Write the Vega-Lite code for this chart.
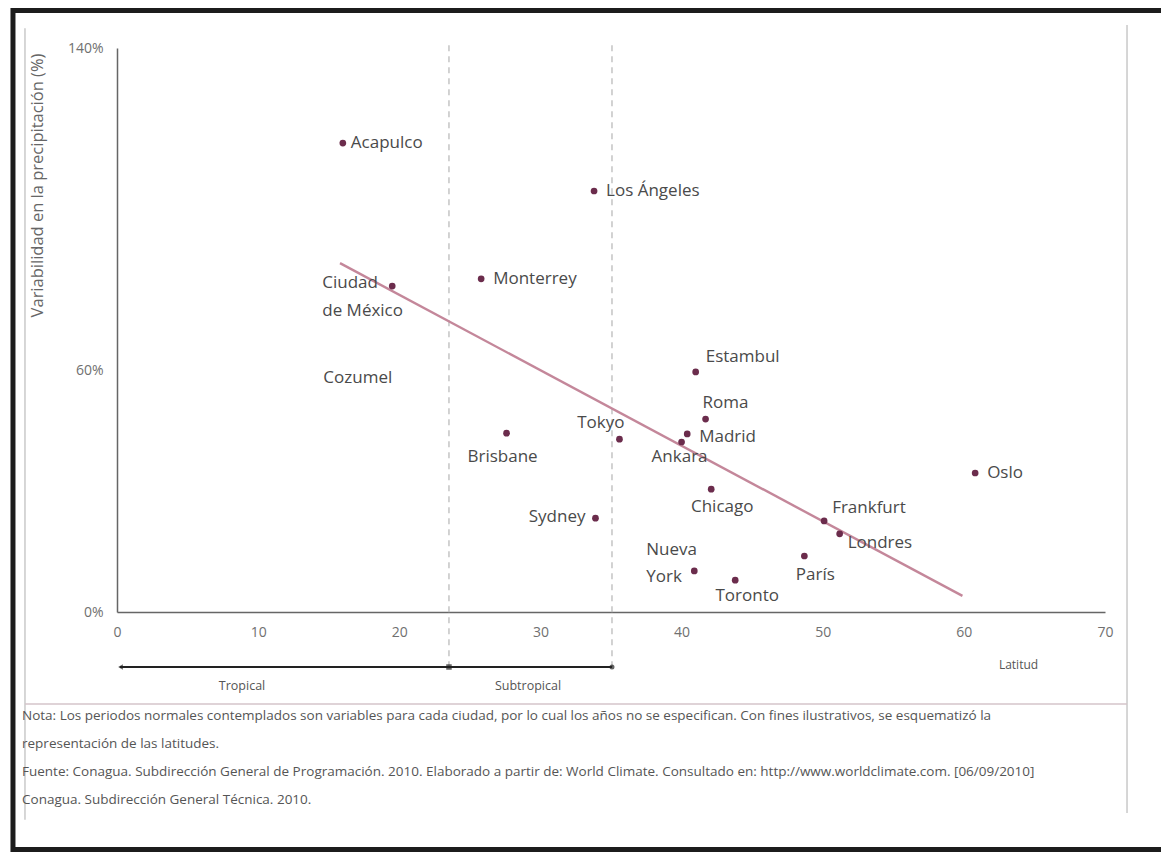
{
  "$schema": "https://vega.github.io/schema/vega-lite/v6.json",
  "width": 988,
  "height": 564,
  "autosize": {"type": "none"},
  "padding": {"left": 117, "top": 48, "right": 56, "bottom": 240},
  "background": "#ffffff",
  "config": {"view": {"stroke": null}, "text": {"font": "Open Sans"}},
  "datasets": {
    "cities": [
      {"city": "Acapulco", "lat": 16.0, "var": 116.4},
      {"city": "Los Ángeles", "lat": 33.8, "var": 104.5},
      {"city": "Monterrey", "lat": 25.8, "var": 82.7},
      {"city": "Ciudad de México", "lat": 19.5, "var": 80.9},
      {"city": "Cozumel", "lat": 20.5, "var": 58.1},
      {"city": "Brisbane", "lat": 27.6, "var": 44.4},
      {"city": "Tokyo", "lat": 35.6, "var": 42.9},
      {"city": "Sydney", "lat": 33.9, "var": 23.3},
      {"city": "Estambul", "lat": 41.0, "var": 59.6},
      {"city": "Roma", "lat": 41.7, "var": 47.9},
      {"city": "Madrid", "lat": 40.4, "var": 44.2},
      {"city": "Ankara", "lat": 40.0, "var": 42.2},
      {"city": "Chicago", "lat": 42.1, "var": 30.5},
      {"city": "Frankfurt", "lat": 50.1, "var": 22.6},
      {"city": "Londres", "lat": 51.2, "var": 19.4},
      {"city": "París", "lat": 48.7, "var": 13.9},
      {"city": "Nueva York", "lat": 40.9, "var": 10.2},
      {"city": "Toronto", "lat": 43.8, "var": 7.9},
      {"city": "Oslo", "lat": 60.8, "var": 34.5}
    ],
    "trend": [
      {"lat": 15.8, "var": 86.6},
      {"lat": 59.9, "var": 4.0}
    ]
  },
  "data": {"values": [{}]},
  "layer": [
    {
      "mark": {"type": "rect", "filled": false, "stroke": "#1c1c1c", "strokeWidth": 5},
      "encoding": {
        "x": {"datum": -7.37, "type": "quantitative"},
        "x2": {"datum": 74.96},
        "y": {"datum": 149.3, "type": "quantitative"},
        "y2": {"datum": -58.95}
      }
    },
    {
      "mark": {"type": "rule", "stroke": "#c9c9c9", "strokeWidth": 1.5},
      "encoding": {
        "x": {"datum": -6.52, "type": "quantitative"},
        "y": {"datum": 144.9, "type": "quantitative"},
        "y2": {"datum": -51.6}
      }
    },
    {
      "mark": {"type": "rule", "stroke": "#c9c9c9", "strokeWidth": 1.5},
      "encoding": {
        "x": {"datum": 71.56, "type": "quantitative"},
        "y": {"datum": 145.7, "type": "quantitative"},
        "y2": {"datum": -49.9}
      }
    },
    {
      "mark": {"type": "rule", "stroke": "#d4c5ca", "strokeWidth": 1.5},
      "encoding": {
        "x": {"datum": -6.52, "type": "quantitative"},
        "x2": {"datum": 71.56},
        "y": {"datum": -22.84, "type": "quantitative"}
      }
    },
    {
      "mark": {"type": "text", "font": "Open Sans", "fontSize": 13.5, "color": "#555555", "align": "left", "baseline": "top", "lineHeight": 28},
      "encoding": {
        "x": {"datum": -6.73, "type": "quantitative"},
        "y": {"datum": -24.0, "type": "quantitative"},
        "text": {"value": [
          "Nota: Los periodos normales contemplados son variables para cada ciudad, por lo cual los años no se especifican. Con fines ilustrativos, se esquematizó la",
          "representación de las latitudes.",
          "Fuente: Conagua. Subdirección General de Programación. 2010. Elaborado a partir de: World Climate. Consultado en: http://www.worldclimate.com. [06/09/2010]",
          "Conagua. Subdirección General Técnica. 2010."
        ]}
      }
    },
    {
      "mark": {"type": "rule", "stroke": "#b5b5b5", "strokeWidth": 1.2, "strokeDash": [6, 5]},
      "encoding": {
        "x": {"datum": 23.52, "type": "quantitative"},
        "y": {"datum": 140.7, "type": "quantitative"},
        "y2": {"datum": -13.65}
      }
    },
    {
      "mark": {"type": "rule", "stroke": "#b5b5b5", "strokeWidth": 1.2, "strokeDash": [6, 5]},
      "encoding": {
        "x": {"datum": 35.07, "type": "quantitative"},
        "y": {"datum": 140.7, "type": "quantitative"},
        "y2": {"datum": -13.65}
      }
    },
    {
      "mark": {"type": "rule", "stroke": "#222222", "strokeWidth": 2},
      "encoding": {
        "x": {"datum": 0.2, "type": "quantitative"},
        "x2": {"datum": 35.07},
        "y": {"datum": -13.65, "type": "quantitative"}
      }
    },
    {
      "mark": {"type": "point", "shape": "triangle-left", "filled": true, "color": "#222222", "size": 30},
      "encoding": {
        "x": {"datum": 0.25, "type": "quantitative"},
        "y": {"datum": -13.65, "type": "quantitative"}
      }
    },
    {
      "mark": {"type": "point", "shape": "square", "filled": true, "color": "#222222", "size": 30},
      "encoding": {
        "x": {"datum": 23.52, "type": "quantitative"},
        "y": {"datum": -13.65, "type": "quantitative"}
      }
    },
    {
      "mark": {"type": "point", "shape": "circle", "filled": true, "color": "#222222", "size": 25},
      "encoding": {
        "x": {"datum": 35.07, "type": "quantitative"},
        "y": {"datum": -13.65, "type": "quantitative"}
      }
    },
    {
      "mark": {"type": "text", "font": "Open Sans", "fontSize": 12.5, "color": "#555555", "align": "center", "baseline": "middle"},
      "encoding": {
        "x": {"datum": 8.86, "type": "quantitative"},
        "y": {"datum": -18.4, "type": "quantitative"},
        "text": {"value": "Tropical"}
      }
    },
    {
      "mark": {"type": "text", "font": "Open Sans", "fontSize": 12.5, "color": "#555555", "align": "center", "baseline": "middle"},
      "encoding": {
        "x": {"datum": 29.12, "type": "quantitative"},
        "y": {"datum": -18.4, "type": "quantitative"},
        "text": {"value": "Subtropical"}
      }
    },
    {
      "data": {"name": "trend"},
      "mark": {"type": "line", "color": "#c4879a", "strokeWidth": 2.4},
      "encoding": {
        "x": {"field": "lat", "type": "quantitative"},
        "y": {"field": "var", "type": "quantitative"}
      }
    },
    {
      "data": {"name": "cities"},
      "transform": [{"filter": "datum.city !== 'Cozumel'"}],
      "mark": {"type": "circle", "color": "#6b2c4c", "opacity": 1, "size": 45},
      "encoding": {
        "x": {
          "field": "lat",
          "type": "quantitative",
          "scale": {"domain": [0, 70], "nice": false, "zero": false},
          "axis": {
            "title": "Latitud",
            "values": [0, 10, 20, 30, 40, 50, 60, 70],
            "grid": false,
            "ticks": false,
            "labelFlush": false,
            "labelOverlap": false,
            "domainColor": "#666666",
            "domainWidth": 1.5,
            "labelPadding": 13,
            "labelFont": "Open Sans",
            "labelFontSize": 14,
            "labelColor": "#707070",
            "titleFont": "Open Sans",
            "titleFontSize": 12,
            "titleFontWeight": "normal",
            "titleColor": "#555555",
            "titleX": 901,
            "titleY": 52,
            "titleAlign": "center",
            "titleBaseline": "middle"
          }
        },
        "y": {
          "field": "var",
          "type": "quantitative",
          "scale": {"domain": [0, 140], "nice": false, "zero": false},
          "axis": {
            "title": "Variabilidad en la precipitación (%)",
            "values": [0, 60, 140],
            "labelExpr": "datum.value + '%'",
            "grid": false,
            "ticks": false,
            "labelFlush": false,
            "labelOverlap": false,
            "domainColor": "#666666",
            "domainWidth": 1.5,
            "labelPadding": 14,
            "labelFont": "Open Sans",
            "labelFontSize": 14,
            "labelColor": "#707070",
            "titleFont": "Open Sans",
            "titleFontSize": 16.5,
            "titleFontWeight": "normal",
            "titleColor": "#666666",
            "titleAngle": 270,
            "titleX": -80,
            "titleY": 5,
            "titleAlign": "right",
            "titleBaseline": "middle"
          }
        }
      }
    },
    {
      "data": {"name": "cities"},
      "transform": [{"filter": "datum.city === 'Acapulco'"}],
      "mark": {"type": "text", "font": "Open Sans", "fontSize": 17, "color": "#4a4a4a", "align": "left", "baseline": "middle", "dx": 8, "dy": 0},
      "encoding": {"x": {"field": "lat", "type": "quantitative"}, "y": {"field": "var", "type": "quantitative"}, "text": {"field": "city"}}
    },
    {
      "data": {"name": "cities"},
      "transform": [{"filter": "datum.city === 'Los Ángeles' || datum.city === 'Monterrey' || datum.city === 'Oslo'"}],
      "mark": {"type": "text", "font": "Open Sans", "fontSize": 17, "color": "#4a4a4a", "align": "left", "baseline": "middle", "dx": 12, "dy": 0},
      "encoding": {"x": {"field": "lat", "type": "quantitative"}, "y": {"field": "var", "type": "quantitative"}, "text": {"field": "city"}}
    },
    {
      "data": {"name": "cities"},
      "transform": [{"filter": "datum.city === 'Ciudad de México'"}, {"calculate": "replace(datum.city, ' de ', '|de ')", "as": "lbl"}],
      "mark": {"type": "text", "font": "Open Sans", "fontSize": 17, "color": "#4a4a4a", "align": "left", "baseline": "middle", "dx": -70, "dy": -3, "lineBreak": "|", "lineHeight": 28},
      "encoding": {"x": {"field": "lat", "type": "quantitative"}, "y": {"field": "var", "type": "quantitative"}, "text": {"field": "lbl"}}
    },
    {
      "data": {"name": "cities"},
      "transform": [{"filter": "datum.city === 'Cozumel'"}],
      "mark": {"type": "text", "font": "Open Sans", "fontSize": 17, "color": "#4a4a4a", "align": "left", "baseline": "middle", "dx": -83, "dy": 0},
      "encoding": {"x": {"field": "lat", "type": "quantitative"}, "y": {"field": "var", "type": "quantitative"}, "text": {"field": "city"}}
    },
    {
      "data": {"name": "cities"},
      "transform": [{"filter": "datum.city === 'Brisbane'"}],
      "mark": {"type": "text", "font": "Open Sans", "fontSize": 17, "color": "#4a4a4a", "align": "center", "baseline": "middle", "dx": -4, "dy": 24},
      "encoding": {"x": {"field": "lat", "type": "quantitative"}, "y": {"field": "var", "type": "quantitative"}, "text": {"field": "city"}}
    },
    {
      "data": {"name": "cities"},
      "transform": [{"filter": "datum.city === 'Tokyo'"}],
      "mark": {"type": "text", "font": "Open Sans", "fontSize": 17, "color": "#4a4a4a", "align": "right", "baseline": "middle", "dx": 5, "dy": -16},
      "encoding": {"x": {"field": "lat", "type": "quantitative"}, "y": {"field": "var", "type": "quantitative"}, "text": {"field": "city"}}
    },
    {
      "data": {"name": "cities"},
      "transform": [{"filter": "datum.city === 'Sydney'"}],
      "mark": {"type": "text", "font": "Open Sans", "fontSize": 17, "color": "#4a4a4a", "align": "right", "baseline": "middle", "dx": -10, "dy": -1},
      "encoding": {"x": {"field": "lat", "type": "quantitative"}, "y": {"field": "var", "type": "quantitative"}, "text": {"field": "city"}}
    },
    {
      "data": {"name": "cities"},
      "transform": [{"filter": "datum.city === 'Estambul'"}],
      "mark": {"type": "text", "font": "Open Sans", "fontSize": 17, "color": "#4a4a4a", "align": "left", "baseline": "middle", "dx": 10, "dy": -15},
      "encoding": {"x": {"field": "lat", "type": "quantitative"}, "y": {"field": "var", "type": "quantitative"}, "text": {"field": "city"}}
    },
    {
      "data": {"name": "cities"},
      "transform": [{"filter": "datum.city === 'Roma'"}],
      "mark": {"type": "text", "font": "Open Sans", "fontSize": 17, "color": "#4a4a4a", "align": "left", "baseline": "middle", "dx": -3, "dy": -16},
      "encoding": {"x": {"field": "lat", "type": "quantitative"}, "y": {"field": "var", "type": "quantitative"}, "text": {"field": "city"}}
    },
    {
      "data": {"name": "cities"},
      "transform": [{"filter": "datum.city === 'Madrid'"}],
      "mark": {"type": "text", "font": "Open Sans", "fontSize": 17, "color": "#4a4a4a", "align": "left", "baseline": "middle", "dx": 12, "dy": 3},
      "encoding": {"x": {"field": "lat", "type": "quantitative"}, "y": {"field": "var", "type": "quantitative"}, "text": {"field": "city"}}
    },
    {
      "data": {"name": "cities"},
      "transform": [{"filter": "datum.city === 'Ankara'"}],
      "mark": {"type": "text", "font": "Open Sans", "fontSize": 17, "color": "#4a4a4a", "align": "center", "baseline": "middle", "dx": -2, "dy": 15},
      "encoding": {"x": {"field": "lat", "type": "quantitative"}, "y": {"field": "var", "type": "quantitative"}, "text": {"field": "city"}}
    },
    {
      "data": {"name": "cities"},
      "transform": [{"filter": "datum.city === 'Chicago'"}],
      "mark": {"type": "text", "font": "Open Sans", "fontSize": 17, "color": "#4a4a4a", "align": "center", "baseline": "middle", "dx": 11, "dy": 18},
      "encoding": {"x": {"field": "lat", "type": "quantitative"}, "y": {"field": "var", "type": "quantitative"}, "text": {"field": "city"}}
    },
    {
      "data": {"name": "cities"},
      "transform": [{"filter": "datum.city === 'Frankfurt'"}],
      "mark": {"type": "text", "font": "Open Sans", "fontSize": 17, "color": "#4a4a4a", "align": "left", "baseline": "middle", "dx": 8, "dy": -13},
      "encoding": {"x": {"field": "lat", "type": "quantitative"}, "y": {"field": "var", "type": "quantitative"}, "text": {"field": "city"}}
    },
    {
      "data": {"name": "cities"},
      "transform": [{"filter": "datum.city === 'Londres'"}],
      "mark": {"type": "text", "font": "Open Sans", "fontSize": 17, "color": "#4a4a4a", "align": "left", "baseline": "middle", "dx": 8, "dy": 9},
      "encoding": {"x": {"field": "lat", "type": "quantitative"}, "y": {"field": "var", "type": "quantitative"}, "text": {"field": "city"}}
    },
    {
      "data": {"name": "cities"},
      "transform": [{"filter": "datum.city === 'París'"}],
      "mark": {"type": "text", "font": "Open Sans", "fontSize": 17, "color": "#4a4a4a", "align": "center", "baseline": "middle", "dx": 11, "dy": 19},
      "encoding": {"x": {"field": "lat", "type": "quantitative"}, "y": {"field": "var", "type": "quantitative"}, "text": {"field": "city"}}
    },
    {
      "data": {"name": "cities"},
      "transform": [{"filter": "datum.city === 'Nueva York'"}, {"calculate": "replace(datum.city, ' ', '|')", "as": "lbl"}],
      "mark": {"type": "text", "font": "Open Sans", "fontSize": 17, "color": "#4a4a4a", "align": "left", "baseline": "middle", "dx": -48, "dy": -21, "lineBreak": "|", "lineHeight": 27},
      "encoding": {"x": {"field": "lat", "type": "quantitative"}, "y": {"field": "var", "type": "quantitative"}, "text": {"field": "lbl"}}
    },
    {
      "data": {"name": "cities"},
      "transform": [{"filter": "datum.city === 'Toronto'"}],
      "mark": {"type": "text", "font": "Open Sans", "fontSize": 17, "color": "#4a4a4a", "align": "center", "baseline": "middle", "dx": 12, "dy": 16},
      "encoding": {"x": {"field": "lat", "type": "quantitative"}, "y": {"field": "var", "type": "quantitative"}, "text": {"field": "city"}}
    }
  ]
}
